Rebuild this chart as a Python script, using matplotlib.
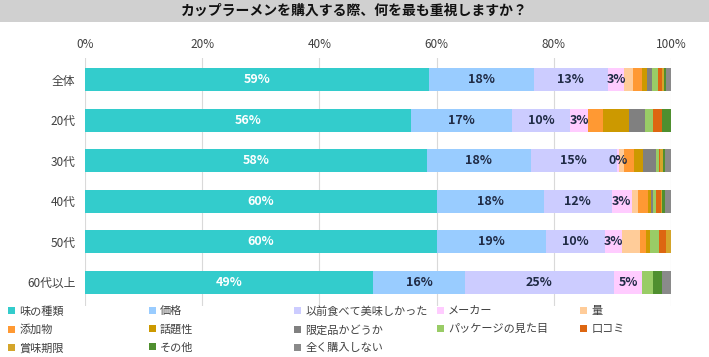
import numpy as np
import matplotlib
matplotlib.use("Agg")
from matplotlib import pyplot as plt
from matplotlib.patches import Rectangle

plt.rcParams['font.family'] = ['Noto Sans CJK JP', 'DejaVu Sans']

title = 'カップラーメンを購入する際、何を最も重視しますか？'
groups = ['全体', '20代', '30代', '40代', '50代', '60代以上']
series = ['味の種類', '価格', '以前食べて美味しかった', 'メーカー', '量',
          '添加物', '話題性', '限定品かどうか', 'パッケージの見た目', '口コミ',
          '賞味期限', 'その他', '全く購入しない']
colors = ['#33CCCC', '#99CCFF', '#CCCCFF', '#FFCCFF', '#FFCC99',
          '#FF9933', '#CC9900', '#808080', '#99CC66', '#DD6611',
          '#D4A52A', '#4F8F2F', '#8A8A8A']

# rows = groups, columns = series (%)
values = [
    [58.7, 17.9, 12.6, 2.8, 1.5, 1.5, 0.9, 0.9, 1.0, 0.7, 0.3, 0.4, 0.8],
    [55.6, 17.3, 9.9, 3.0, 0.0, 2.6, 4.4, 2.8, 1.3, 1.6, 0.0, 1.5, 0.0],
    [58.3, 17.8, 14.6, 0.4, 0.9, 1.7, 1.6, 2.2, 0.4, 0.3, 0.4, 0.4, 1.0],
    [60.0, 18.3, 11.6, 3.4, 1.1, 1.7, 0.5, 0.3, 0.5, 0.9, 0.2, 0.4, 1.1],
    [60.0, 18.7, 10.0, 2.9, 3.1, 1.0, 0.7, 0.0, 1.5, 1.2, 0.9, 0.0, 0.0],
    [49.1, 15.8, 25.3, 4.9, 0.0, 0.0, 0.0, 0.0, 1.8, 0.0, 0.0, 1.6, 1.5],
]
n_labelled = 4  # only first four series get value labels

data = np.array(values)
W, H = 709, 357
fig = plt.figure(figsize=(W / 100, H / 100), dpi=100)

# title band
fig.add_artist(Rectangle((0, 1 - 22 / H), 1, 22 / H, transform=fig.transFigure,
                         facecolor='#D0D0D0', edgecolor='none'))
fig.text(0.5, 1 - 11 / H, title, ha='center', va='center', fontsize=10,
         fontweight='bold', color='#111111')

ax = fig.add_axes([85 / W, 1 - 306 / H, 586 / W, (306 - 58) / H])
y = np.arange(len(groups))
left = np.zeros(len(groups))
handles = []
for j, name in enumerate(series):
    bars = ax.barh(y, data[:, j], left=left, height=0.57, color=colors[j],
                   label=name, zorder=3)
    handles.append(bars)
    if j < n_labelled:
        for i in range(len(groups)):
            v = data[i, j]
            ax.text(left[i] + v / 2, y[i], f'{int(round(v))}%', ha='center',
                    va='center', fontsize=9, fontweight='bold',
                    color='white' if j == 0 else '#1F2A44', zorder=4)
    left += data[:, j]

ax.set_xlim(0, 100)
ax.set_ylim(len(groups) - 0.41, -0.54)
ax.set_xticks(np.arange(0, 101, 20))
ax.set_xticklabels([f'{t}%' for t in range(0, 101, 20)])
ax.xaxis.tick_top()
ax.set_yticks(y)
ax.set_yticklabels(groups)
ax.tick_params(axis='both', length=0, labelsize=8.5, colors='#404040')
ax.tick_params(axis='x', pad=5)
ax.tick_params(axis='y', pad=7)
ax.grid(axis='x', color='#D9D9D9', linewidth=0.8, zorder=0)
for s in ax.spines.values():
    s.set_visible(False)

# legend: 5 columns laid out row-wise
col_x = [8, 149, 294, 437, 580]
for c in range(5):
    hs = handles[c::5]
    fig.legend(handles=hs, labels=[h.get_label() for h in hs],
               loc='upper left', bbox_to_anchor=(col_x[c] / W, 1 - 306 / H),
               frameon=False, fontsize=8, handlelength=0.6, handleheight=0.6,
               handletextpad=0.4, labelspacing=0.72, borderpad=0,
               borderaxespad=0, labelcolor='#404040')

fig.savefig('out.png', dpi=100)
